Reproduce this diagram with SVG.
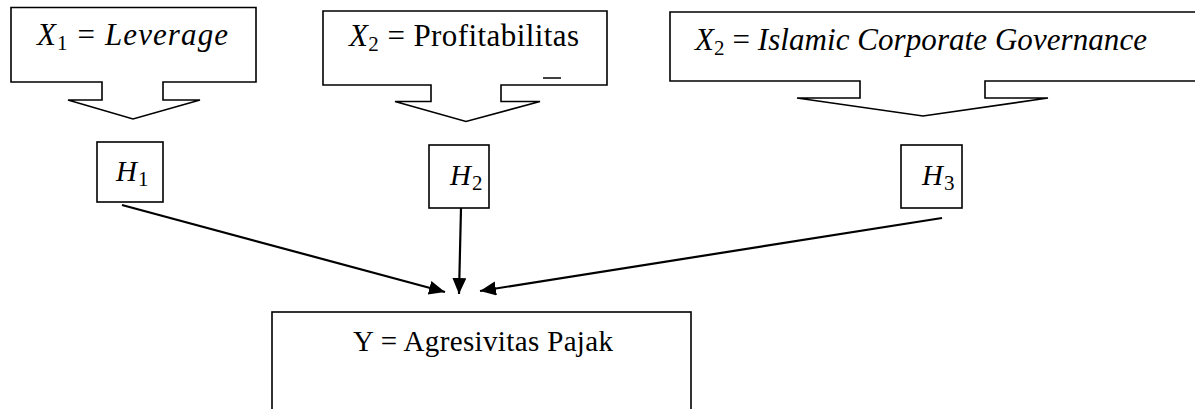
<svg xmlns="http://www.w3.org/2000/svg" width="1195" height="409" viewBox="0 0 1195 409">
<style>
.shape{fill:#fff;stroke:#000;stroke-width:1.6}
.t{font-family:"Liberation Serif","DejaVu Serif",serif;font-size:29px;fill:#000}
.m{font-size:31px}
.h{font-size:29px}
.i{font-style:italic}
.s{font-size:21px}
.conn{stroke:#000;stroke-width:2.2;fill:none}
</style>
<defs>
<marker id="arr" markerUnits="userSpaceOnUse" markerWidth="17" markerHeight="16" refX="16" refY="7" orient="auto">
<path d="M0,0 L16,7 L0,14 Z" fill="#000"/>
</marker>
</defs>
<rect width="1195" height="409" fill="#fff"/>
<g id="x1">
<path class="shape" d="M11,7.5 H256 V82 H163 V100 H200 L133,119 L68,100 H102 V82 H11 Z"/>
<text class="t m" x="37" y="45" textLength="191"><tspan class="i">X</tspan><tspan class="s" dy="5">1</tspan><tspan dy="-5"> = </tspan><tspan class="i">Leverage</tspan></text>
</g>
<g id="x2">
<path class="shape" d="M323,11 H607 V85 H501 V101.5 H540 L466,121.5 L395,101.5 H431 V85 H323 Z"/>
<text class="t m" x="349" y="46" textLength="230"><tspan class="i">X</tspan><tspan class="s" dy="5">2</tspan><tspan dy="-5"> = Profitabilitas</tspan></text>
<line x1="543" y1="78" x2="561" y2="78" stroke="#000" stroke-width="1.5"/>
</g>
<g id="x3">
<path class="shape" d="M670,12 H1200 V81 H985 V98 H1048 L923,116 L797,98 H860 V81 H670 Z"/>
<text class="t m" x="695" y="50" textLength="452"><tspan class="i">X</tspan><tspan class="s" dy="5">2</tspan><tspan dy="-5"> = </tspan><tspan class="i">Islamic Corporate Governance</tspan></text>
</g>
<g id="h1">
<rect class="shape" x="97" y="142" width="66" height="60"/>
<text class="t h" x="116" y="181"><tspan class="i">H</tspan><tspan class="s" dx="1" dy="5">1</tspan></text>
</g>
<g id="h2">
<rect class="shape" x="429" y="145" width="60" height="63"/>
<text class="t h" x="450" y="185"><tspan class="i">H</tspan><tspan class="s" dx="1" dy="5">2</tspan></text>
</g>
<g id="h3">
<rect class="shape" x="901" y="145" width="61" height="63"/>
<text class="t h" x="922" y="185"><tspan class="i">H</tspan><tspan class="s" dx="1" dy="5">3</tspan></text>
</g>
<g id="y">
<rect class="shape" x="272" y="312" width="419" height="120"/>
<text class="t" x="353" y="351" textLength="260">Y = Agresivitas Pajak</text>
</g>
<g id="connectors">
<line class="conn" x1="122" y1="205" x2="445" y2="292" marker-end="url(#arr)"/>
<line class="conn" x1="461" y1="208" x2="459" y2="294" marker-end="url(#arr)"/>
<line class="conn" x1="942" y1="218" x2="480" y2="291" marker-end="url(#arr)"/>
</g>
</svg>
